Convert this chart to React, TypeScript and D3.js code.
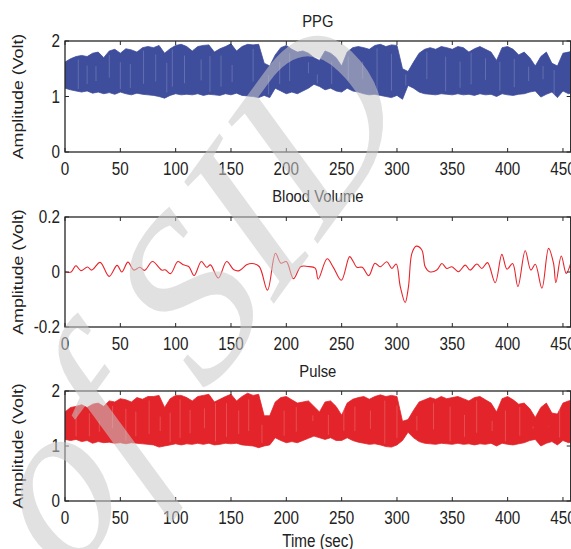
import React, { useEffect, useRef } from 'react';
import * as d3 from 'd3';

// sample times (sec) for the PPG / Pulse envelopes
const envTimes = [0, 5, 10, 15, 20, 25, 30, 35, 40, 45, 50, 55, 60, 65, 70, 75, 80, 85, 90, 95,
  100, 105, 110, 115, 120, 125, 130, 135, 140, 145, 150, 155, 160, 165, 170, 175, 180, 185, 190, 195,
  200, 205, 210, 215, 220, 225, 230, 235, 240, 245, 250, 255, 260, 265, 270, 275, 280, 285, 290, 295,
  300, 305, 310, 315, 320, 325, 330, 335, 340, 345, 350, 355, 360, 365, 370, 375, 380, 385, 390, 395,
  400, 405, 410, 415, 420, 425, 430, 435, 440, 445, 450, 455, 460];

const ppgUpper = [1.62, 1.68, 1.72, 1.74, 1.72, 1.78, 1.80, 1.70, 1.82, 1.85, 1.78, 1.86, 1.84, 1.80, 1.88, 1.90, 1.88, 1.92, 1.78, 1.86,
  1.92, 1.94, 1.90, 1.82, 1.90, 1.92, 1.93, 1.80, 1.86, 1.90, 1.95, 1.82, 1.90, 1.94, 1.93, 1.94, 1.60, 1.55, 1.75, 1.88,
  1.92, 1.85, 1.80, 1.82, 1.78, 1.70, 1.65, 1.82, 1.78, 1.70, 1.55, 1.80, 1.88, 1.90, 1.88, 1.85, 1.92, 1.94, 1.90, 1.93,
  1.92, 1.50, 1.45, 1.62, 1.78, 1.85, 1.88, 1.85, 1.90, 1.88, 1.85, 1.90, 1.88, 1.80, 1.86, 1.90, 1.85, 1.80, 1.65, 1.88,
  1.90, 1.85, 1.75, 1.80, 1.70, 1.55, 1.72, 1.80, 1.60, 1.55, 1.78, 1.80, 1.82];
const ppgLower = [1.15, 1.12, 1.10, 1.08, 1.10, 1.06, 1.08, 1.05, 1.07, 1.04, 1.08, 1.05, 1.03, 1.06, 1.04, 1.03, 1.02, 1.00, 0.97, 1.02,
  1.05, 1.03, 1.04, 1.03, 1.05, 1.02, 1.04, 1.03, 1.02, 1.05, 1.03, 1.06, 1.02, 1.01, 1.00, 0.98, 1.02, 0.98, 1.15, 1.10,
  1.05, 1.08, 1.05, 1.10, 1.15, 1.22, 1.18, 1.12, 1.15, 1.10, 1.08, 1.15, 1.10, 1.08, 1.05, 1.03, 1.04, 1.02, 1.00, 0.98,
  1.02, 0.95, 1.20, 1.15, 1.08, 1.05, 1.04, 1.03, 1.05, 1.04, 1.03, 1.05, 1.03, 1.04, 1.02, 1.05, 1.03, 1.04, 1.00, 1.05,
  1.03, 1.02, 1.04, 1.05, 1.08, 1.10, 0.99, 1.04, 1.08, 0.98, 1.10, 1.05, 1.08];

const pulseUpper = [1.62, 1.70, 1.72, 1.75, 1.70, 1.76, 1.78, 1.72, 1.82, 1.80, 1.86, 1.84, 1.80, 1.88, 1.85, 1.90, 1.90, 1.92, 1.70, 1.86,
  1.92, 1.92, 1.88, 1.82, 1.90, 1.92, 1.94, 1.80, 1.85, 1.90, 1.94, 1.82, 1.90, 1.96, 1.92, 1.94, 1.55, 1.55, 1.80, 1.88,
  1.90, 1.84, 1.78, 1.80, 1.82, 1.72, 1.62, 1.80, 1.82, 1.72, 1.56, 1.78, 1.85, 1.88, 1.90, 1.85, 1.90, 1.93, 1.90, 1.92,
  1.90, 1.45, 1.48, 1.65, 1.80, 1.84, 1.88, 1.85, 1.90, 1.86, 1.88, 1.90, 1.86, 1.82, 1.88, 1.90, 1.84, 1.78, 1.62, 1.86,
  1.90, 1.84, 1.76, 1.78, 1.68, 1.52, 1.70, 1.78, 1.60, 1.58, 1.78, 1.82, 1.84];
const pulseLower = [1.12, 1.10, 1.12, 1.08, 1.10, 1.05, 1.08, 1.06, 1.07, 1.05, 1.06, 1.04, 1.06, 1.05, 1.04, 1.03, 1.02, 0.98, 1.00, 1.02,
  1.04, 1.02, 1.04, 1.03, 1.05, 1.03, 1.05, 1.02, 1.03, 1.05, 1.04, 1.05, 1.02, 1.01, 1.00, 0.97, 1.00, 1.02, 1.15, 1.10,
  1.06, 1.08, 1.06, 1.10, 1.14, 1.18, 1.15, 1.12, 1.15, 1.10, 1.10, 1.15, 1.10, 1.07, 1.05, 1.03, 1.04, 1.02, 0.99, 0.98,
  1.02, 1.10, 1.25, 1.15, 1.08, 1.05, 1.04, 1.03, 1.05, 1.04, 1.03, 1.05, 1.03, 1.04, 1.02, 1.04, 1.03, 1.05, 1.00, 1.05,
  1.03, 1.02, 1.04, 1.06, 1.10, 1.12, 1.00, 1.05, 1.08, 1.02, 1.10, 1.06, 1.08];

// lighter streaks seen inside the dense bands (sec)
const ppgStreaks = [12, 20, 28, 40, 50, 59, 71, 82, 92, 97, 108, 123, 131, 141, 151, 170, 184, 194, 203, 220,
  228, 241, 256, 269, 282, 295, 308, 327, 344, 357, 367, 380, 393, 406, 419, 432, 442];
const pulseStreaks = [10, 22, 31, 43, 55, 64, 76, 86, 95, 104, 113, 126, 136, 146, 157, 166, 178, 198, 209, 224,
  238, 252, 262, 276, 289, 300, 318, 333, 348, 361, 372, 386, 398, 411, 423, 437, 447];

// Blood Volume: turning points
const bvTime = [0, 5.6, 9.8, 14.4, 20.3, 24.2, 31.7, 39.9, 47.1, 51.3, 56.9, 62.1, 67.6, 71.9, 79.1, 87.3, 90.5, 95.4,
  102, 106.9, 111.8, 116.7, 123.2, 128.1, 131.4, 138.6, 146.1, 152.6, 157.5, 164.1, 169, 175.5, 183, 190.2, 195.1,
  200, 206.5, 213.1, 219.6, 226.1, 228.8, 236.9, 242.5, 249.7, 257.2, 260.5, 263.7, 268.6, 274.5, 280.1, 284.8,
  290.8, 295.4, 299.3, 303, 307.4, 310.4, 313.5, 317.4, 322.5, 325.5, 329.4, 336, 340.6, 345, 349.6, 355.6, 361.7,
  366, 372.2, 376.7, 381.8, 388.8, 394.8, 399.4, 404.5, 409.3, 415.9, 421, 425, 431, 437, 441.5, 443.6, 448.5, 453, 457];
const bvValue = [0, 0, 0.023, 0.005, 0.018, 0.007, 0.035, -0.016, 0.024, 0, 0.036, 0.007, 0.017, 0.006, 0.038, 0.007, 0.008, -0.006,
  0.038, 0.026, 0.02, -0.013, 0.038, 0.017, 0.026, -0.022, 0.038, 0.008, 0.005, 0.026, 0.031, 0.02, -0.066, 0.068, 0.032,
  0.038, -0.024, 0.02, 0.02, 0.014, -0.026, 0.048, 0.017, -0.03, 0.056, 0.038, 0.017, 0.017, -0.013, 0.032, 0.019,
  0.037, 0.013, 0.029, -0.053, -0.111, -0.053, 0.068, 0.094, 0.08, 0.019, 0.001, 0.007, 0.031, 0.013, 0.019, 0.001, 0.025,
  0.007, 0.029, 0.013, 0.034, -0.039, 0.064, 0.01, 0.031, -0.053, 0.077, 0.007, 0.028, -0.059, 0.086, 0.031, -0.039, 0.058, -0.005, 0.031];

const xTicks = [0, 50, 100, 150, 200, 250, 300, 350, 400, 450];
const ampTicks = [0, 1, 2];
const bvTicks = [-0.2, 0, 0.2];

const FONT = '"Liberation Sans", Arial, Helvetica, sans-serif';
const SX = 0.87; // source figure is squeezed horizontally

const App = () => {
  const ref = useRef<SVGSVGElement>(null);

  useEffect(() => {
    const svg = d3.select(ref.current);
    svg.selectAll('*').remove();

    const x = d3.scaleLinear().domain([0, 457]).range([65, 570.7]);

    const label = (g, tx, ty, str, anchor, size = 17.5) =>
      g.append('text')
        .attr('transform', `translate(${tx},${ty}) scale(${SX},1)`)
        .attr('text-anchor', anchor)
        .style('font-family', FONT)
        .style('font-size', size + 'px')
        .style('fill', '#222')
        .text(str);

    const panels = [
      { title: 'PPG', top: 41, bottom: 152, domain: [0, 2], ticks: ampTicks, titleY: 27, tickY: 175 },
      { title: 'Blood Volume', top: 217, bottom: 327, domain: [-0.2, 0.2], ticks: bvTicks, titleY: 202, tickY: 350 },
      { title: 'Pulse', top: 391, bottom: 501, domain: [0, 2], ticks: ampTicks, titleY: 377, tickY: 524 }
    ];

    const defs = svg.append('defs');

    panels.forEach((p, i) => {
      const y = d3.scaleLinear().domain(p.domain).range([p.bottom, p.top]);
      const g = svg.append('g');

      defs.append('clipPath').attr('id', `clip${i}`)
        .append('rect')
        .attr('x', x(0)).attr('y', p.top)
        .attr('width', x(457) - x(0)).attr('height', p.bottom - p.top);

      const plot = g.append('g').attr('clip-path', `url(#clip${i})`);

      if (i === 1) {
        const line = d3.line()
          .x((d, k) => x(bvTime[k]))
          .y(d => y(d))
          .curve(d3.curveCatmullRom.alpha(0.5));
        plot.append('path')
          .datum(bvValue)
          .attr('d', line)
          .attr('fill', 'none')
          .attr('stroke', '#e8232b')
          .attr('stroke-width', 1.1);
      } else {
        const upper = i === 0 ? ppgUpper : pulseUpper;
        const lower = i === 0 ? ppgLower : pulseLower;
        const streaks = i === 0 ? ppgStreaks : pulseStreaks;
        const color = i === 0 ? '#3e4d9c' : '#e3242a';
        const area = d3.area()
          .x((d, k) => x(envTimes[k]))
          .y0((d, k) => y(lower[k]))
          .y1(d => y(d));
        plot.append('path')
          .datum(upper)
          .attr('d', area)
          .attr('fill', color)
          .attr('stroke', color)
          .attr('stroke-width', 0.8);

        const bisect = d3.bisector(d => d).left;
        plot.selectAll('.streak')
          .data(streaks)
          .enter().append('line')
          .attr('x1', d => x(d)).attr('x2', d => x(d))
          .attr('y1', (d, k) => {
            const j = Math.min(bisect(envTimes, d), envTimes.length - 1);
            return y(upper[j]) + 4 + (k % 3) * 5;
          })
          .attr('y2', (d, k) => {
            const j = Math.min(bisect(envTimes, d), envTimes.length - 1);
            return y(lower[j]) - 3 - (k % 4) * 4;
          })
          .attr('stroke', '#ffffff')
          .attr('stroke-opacity', 0.28)
          .attr('stroke-width', 0.7);
      }

      // frame
      g.append('rect')
        .attr('x', x(0)).attr('y', p.top)
        .attr('width', x(457) - x(0)).attr('height', p.bottom - p.top)
        .attr('fill', 'none')
        .attr('stroke', '#262626')
        .attr('stroke-width', 1.3);

      // inward ticks, MATLAB style
      xTicks.forEach(t => {
        g.append('line').attr('x1', x(t)).attr('x2', x(t))
          .attr('y1', p.bottom).attr('y2', p.bottom - 4)
          .attr('stroke', '#262626').attr('stroke-width', 1);
        g.append('line').attr('x1', x(t)).attr('x2', x(t))
          .attr('y1', p.top).attr('y2', p.top + 4)
          .attr('stroke', '#262626').attr('stroke-width', 1);
        label(g, x(t), p.tickY, String(t), 'middle');
      });
      p.ticks.forEach(v => {
        g.append('line').attr('x1', x(0)).attr('x2', x(0) + 4)
          .attr('y1', y(v)).attr('y2', y(v))
          .attr('stroke', '#262626').attr('stroke-width', 1);
        g.append('line').attr('x1', x(457)).attr('x2', x(457) - 4)
          .attr('y1', y(v)).attr('y2', y(v))
          .attr('stroke', '#262626').attr('stroke-width', 1);
        label(g, 60, y(v) + 6.3, String(v), 'end');
      });

      label(g, (x(0) + x(457)) / 2, p.titleY, p.title, 'middle', 17);

      g.append('text')
        .attr('transform', `translate(23,${(p.top + p.bottom) / 2}) scale(${SX},1) rotate(-90)`)
        .attr('text-anchor', 'middle')
        .style('font-family', FONT)
        .style('font-size', '17.8px')
        .style('fill', '#222')
        .text('Amplitude (Volt)');
    });

    label(svg, (x(0) + x(457)) / 2, 547, 'Time (sec)', 'middle', 17.5);

    // watermark laid over the figure (squeezed with the rest of the image)
    svg.append('text')
      .attr('transform', `scale(${SX},1) translate(478,109) rotate(-50)`)
      .attr('text-anchor', 'end')
      .style('font-family', '"Liberation Serif", "Times New Roman", serif')
      .style('font-style', 'italic')
      .style('font-size', '240px')
      .style('fill', '#c8c8c8')
      .style('fill-opacity', 0.55)
      .text('Archive of SID');
  }, []);

  return (
    <svg ref={ref} width={571} height={549}
      style={{ position: 'absolute', left: 0, top: 0, background: '#fff' }} />
  );
};

export default App;
